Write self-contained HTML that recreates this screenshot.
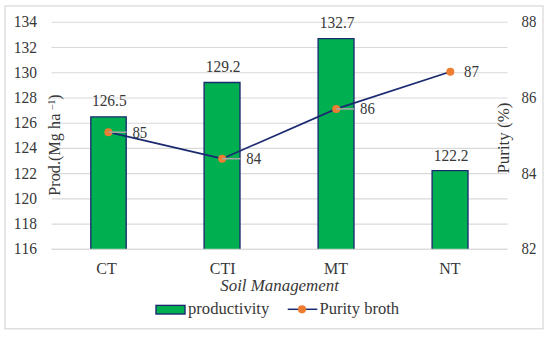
<!DOCTYPE html>
<html>
<head>
<meta charset="utf-8">
<title>Chart</title>
<style>
html,body{margin:0;padding:0;background:#fff;}
body{width:550px;height:337px;overflow:hidden;}
svg{display:block;}
text{font-family:"Liberation Serif",serif;font-size:16px;fill:#383838;font-kerning:none;}
.g line{stroke:#d9d9d9;stroke-width:1.1;}
.bar{fill:#00b050;stroke:#1b2a70;stroke-width:1.35;}
.ld{stroke:#a6a6a6;stroke-width:1.6;}
.mk{fill:#ed7d31;}
</style>
</head>
<body>
<svg width="550" height="337" viewBox="0 0 550 337">
<rect x="0" y="0" width="550" height="337" fill="#ffffff"/>
<rect x="5" y="5.9" width="538" height="322.9" fill="#ffffff" stroke="#dadada" stroke-width="1.3"/>
<g class="g">
<line x1="51.5" x2="507.5" y1="22.30" y2="22.30"/>
<line x1="51.5" x2="507.5" y1="47.52" y2="47.52"/>
<line x1="51.5" x2="507.5" y1="72.74" y2="72.74"/>
<line x1="51.5" x2="507.5" y1="97.97" y2="97.97"/>
<line x1="51.5" x2="507.5" y1="123.19" y2="123.19"/>
<line x1="51.5" x2="507.5" y1="148.41" y2="148.41"/>
<line x1="51.5" x2="507.5" y1="173.63" y2="173.63"/>
<line x1="51.5" x2="507.5" y1="198.86" y2="198.86"/>
<line x1="51.5" x2="507.5" y1="224.08" y2="224.08"/>
<line x1="51.5" x2="507.5" y1="249.30" y2="249.30"/>
</g>
<path class="bar" d="M90.8,249.30 V116.80 H126.2 V249.30"/>
<path class="bar" d="M204.1,249.30 V82.50 H240.0 V249.30"/>
<path class="bar" d="M318.1,249.30 V38.60 H354.0 V249.30"/>
<path class="bar" d="M432.1,249.30 V170.60 H468.0 V249.30"/>
<g class="g"><line x1="51.5" x2="507.5" y1="249.30" y2="249.30"/></g>
<polyline points="108.4,132.2 222.2,158.7 336.2,108.9 450.3,71.7" fill="none" stroke="#1b2a70" stroke-width="1.7" stroke-linejoin="round"/>
<circle class="mk" cx="108.4" cy="132.2" r="4"/>
<circle class="mk" cx="222.2" cy="158.7" r="4"/>
<circle class="mk" cx="336.2" cy="108.9" r="4"/>
<circle class="mk" cx="450.3" cy="71.7" r="4"/>
<line class="ld" x1="108.4" y1="132.2" x2="126.5" y2="132.2"/>
<line class="ld" x1="222.2" y1="158.7" x2="240.5" y2="158.7"/>
<line class="ld" x1="336.2" y1="108.9" x2="354.0" y2="108.9"/>
<g text-anchor="end">
<text x="36.9" y="27.30" textLength="23.2" lengthAdjust="spacingAndGlyphs">134</text>
<text x="36.9" y="52.52" textLength="23.2" lengthAdjust="spacingAndGlyphs">132</text>
<text x="36.9" y="77.74" textLength="23.2" lengthAdjust="spacingAndGlyphs">130</text>
<text x="36.9" y="102.97" textLength="23.2" lengthAdjust="spacingAndGlyphs">128</text>
<text x="36.9" y="128.19" textLength="23.2" lengthAdjust="spacingAndGlyphs">126</text>
<text x="36.9" y="153.41" textLength="23.2" lengthAdjust="spacingAndGlyphs">124</text>
<text x="36.9" y="178.63" textLength="23.2" lengthAdjust="spacingAndGlyphs">122</text>
<text x="36.9" y="203.86" textLength="23.2" lengthAdjust="spacingAndGlyphs">120</text>
<text x="36.9" y="229.08" textLength="23.2" lengthAdjust="spacingAndGlyphs">118</text>
<text x="36.9" y="254.30" textLength="23.2" lengthAdjust="spacingAndGlyphs">116</text>
</g>
<text x="521.5" y="27.30" textLength="14.8" lengthAdjust="spacingAndGlyphs">88</text>
<text x="521.5" y="102.97" textLength="14.8" lengthAdjust="spacingAndGlyphs">86</text>
<text x="521.5" y="178.63" textLength="14.8" lengthAdjust="spacingAndGlyphs">84</text>
<text x="521.5" y="254.30" textLength="14.8" lengthAdjust="spacingAndGlyphs">82</text>
<g text-anchor="middle">
<text x="109.3" y="105.9" textLength="34.7" lengthAdjust="spacingAndGlyphs">126.5</text>
<text x="223.1" y="72.4" textLength="34.7" lengthAdjust="spacingAndGlyphs">129.2</text>
<text x="337.2" y="27.8" textLength="34.7" lengthAdjust="spacingAndGlyphs">132.7</text>
<text x="451.2" y="160.5" textLength="34.7" lengthAdjust="spacingAndGlyphs">122.2</text>
</g>
<text x="132.4" y="137.8" textLength="14.8" lengthAdjust="spacingAndGlyphs">85</text>
<text x="246.3" y="164.0" textLength="14.8" lengthAdjust="spacingAndGlyphs">84</text>
<text x="360.0" y="114.0" textLength="14.8" lengthAdjust="spacingAndGlyphs">86</text>
<text x="464.0" y="77.0" textLength="14.8" lengthAdjust="spacingAndGlyphs">87</text>
<g text-anchor="middle">
<text x="106.6" y="273.7">CT</text>
<text x="222.6" y="273.7">CTI</text>
<text x="336.1" y="273.7">MT</text>
<text x="449.8" y="273.7">NT</text>
<text x="279.6" y="290.5" font-style="italic" textLength="118.6" lengthAdjust="spacingAndGlyphs">Soil Management</text>
</g>
<text transform="translate(59.7,145) rotate(-90)" text-anchor="middle" letter-spacing="0.12">Prod.(Mg ha <tspan font-size="9.5" dy="-5">–1</tspan><tspan dy="5">)</tspan></text>
<text transform="translate(509.2,138.1) rotate(-90)" text-anchor="middle" textLength="71" lengthAdjust="spacingAndGlyphs">Purity (%)</text>
<rect x="156" y="305.4" width="29" height="8.6" fill="#00b050" stroke="#1b2a70" stroke-width="1.4"/>
<text x="188" y="314" textLength="81.3" lengthAdjust="spacingAndGlyphs">productivity</text>
<line x1="287.7" x2="317.3" y1="309.3" y2="309.3" stroke="#1b2a70" stroke-width="1.5"/>
<circle class="mk" cx="302" cy="309.3" r="4.1"/>
<text x="319.5" y="314" textLength="79.6" lengthAdjust="spacingAndGlyphs">Purity broth</text>
</svg>
</body>
</html>
